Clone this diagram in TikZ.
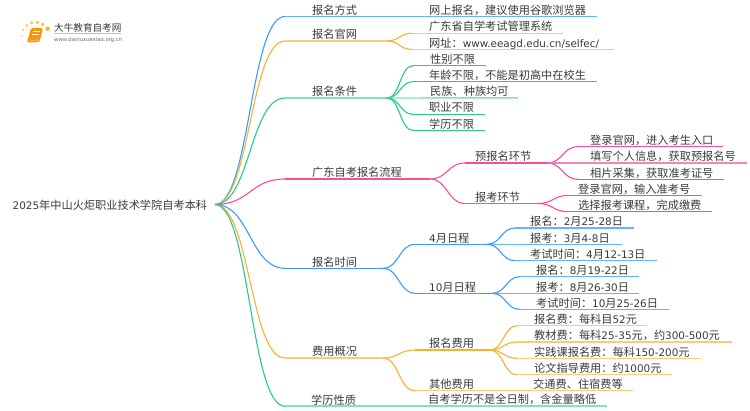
\documentclass[tikz,border=0pt]{standalone}
\usepackage{fontspec}
\setmainfont{Noto Sans CJK SC}
\newfontfamily\latf{DejaVu Sans}
\newcommand\la[1]{{\latf\fontsize{10.4}{11}\selectfont #1}}
\usetikzlibrary{calc}
\definecolor{cblue}{HTML}{3A9BFF}\definecolor{lblue}{HTML}{66B2FF}
\definecolor{corange}{HTML}{FBB02D}\definecolor{lorange}{HTML}{FCCB76}
\definecolor{cgreen}{HTML}{25CB8B}\definecolor{lgreen}{HTML}{7FE3BC}
\definecolor{cpink}{HTML}{FB4C95}
\definecolor{txt}{HTML}{3A3A3A}
\tikzset{
 lab/.style={anchor=base west,inner sep=0pt,yshift=-0.6pt,text=txt,font=\fontsize{11.2}{13}\selectfont},
 link/.style={line width=1.1pt,to path={let \p1=(\tikztostart),\p2=(\tikztotarget),\n1={0.5*(\x2-\x1)} in .. controls (\x1+\n1,\y1) and (\x2-\n1,\y2) .. (\tikztotarget)}},
 flat/.style={line width=1.4pt},
 top/.style={line width=1.7pt},
}
\begin{document}
\begin{tikzpicture}[x=1pt,y=-1pt]
\useasboundingbox (0,0) rectangle (750,410);
% logo
\foreach \px/\py/\r/\o in {47.7/28.7/2.2/1,42.7/24.3/1.8/.9,37.3/22.3/1.8/.9,31.7/22.7/1.6/.8,26.7/25.3/1.5/.7,23/30/1.3/.6,22/36/1.2/.5,22.7/42.3/1/.3}
  \fill[corange,opacity=\o] (\px,\py) circle (\r);
\fill[orange!85!yellow,rounded corners=1.5pt] (31,28) -- (43,28) -- (39.5,42) -- (27,42.5) -- cycle;
\fill[orange!60!white] (30,40) -- (39,39.5) -- (38.8,41) -- (29.5,41.4) -- cycle;
\draw[white,line width=.5pt] (33,31.5) -- (39.5,31.5) (32.4,34) -- (38.8,34);
\node[anchor=base west,inner sep=0pt,text=txt,font=\fontsize{9.6}{11}\selectfont] (brand) at (54,31) {大牛教育自考网};
\draw[black!25,line width=.4pt] (54,33.2) -- (121,33.2);
\node[anchor=base west,inner sep=0pt,text=black!60,font=\latf\fontsize{5.3}{6}\selectfont] (site) at (54,41) {www.daniuxuexiao.org.cn};
% root
\node[lab] (root) at (12.5,209) {\la{2025}年中山火炬职业技术学院自考本科};
\coordinate (r) at (215,204.5);
% level 1 labels
\node[lab] (a1) at (312,13.5) {报名方式};
\node[lab] (a2) at (312,38) {报名官网};
\node[lab] (a3) at (312,95) {报名条件};
\node[lab] (a4) at (312,176) {广东自考报名流程};
\node[lab] (a5) at (312,265.5) {报名时间};
\node[lab] (a6) at (312,355) {费用概况};
\node[lab] (a7) at (311,403.5) {学历性质};
% level 1 anchor coordinates
\coordinate (s1) at (285,16.4);\coordinate (e1) at (597,16.4);
\coordinate (s2) at (285,41);\coordinate (e2) at (387,41);
\coordinate (s3) at (285,98);\coordinate (e3) at (387,98);
\coordinate (s4) at (285,179);\coordinate (e4) at (430,179);
\coordinate (s5) at (285,268.3);\coordinate (e5) at (383,268.3);
\coordinate (s6) at (285,358);\coordinate (e6) at (383,358);
\coordinate (s7) at (285,406.3);\coordinate (e7) at (607,406.3);
% level 1 connectors
\draw[link,cblue] (r) to (s1);\draw[top,lblue] (s1) -- (e1);
\draw[link,corange] (r) to (s2);\draw[top,lorange] (s2) -- (e2);
\draw[link,cgreen] (r) to (s3);\draw[top,lgreen] (s3) -- (e3);
\draw[link,cpink] (r) to (s4);\draw[flat,cpink] (s4) -- (e4);
\draw[link,cblue] (r) to (s5);\draw[flat,cblue] (s5) -- (e5);
\draw[link,corange] (r) to (s6);\draw[top,lorange] (s6) -- (e6);
\draw[link,cgreen] (r) to (s7);\draw[top,lgreen] (s7) -- (e7);
% branch 1, 2
\node[lab] (b11) at (429,13.5) {网上报名，建议使用谷歌浏览器};
\node[lab] (b21) at (429,30) {广东省自学考试管理系统};
\node[lab] (b22) at (429,46.5) {网址：\la{www.eeagd.edu.cn/selfec/}};
\coordinate (c21) at (412,33.2);\coordinate (d21) at (563,33.2);
\coordinate (c22) at (412,49.4);\coordinate (d22) at (614,49.4);
\draw[link,corange] (e2) to (c21);\draw[flat,lorange] (c21) -- (d21);
\draw[link,corange] (e2) to (c22);\draw[flat,lorange] (c22) -- (d22);
% branch 3
\node[lab] (b31) at (430,62.5) {性别不限};
\node[lab] (b32) at (429,78.5) {年龄不限，不能是初高中在校生};
\node[lab] (b33) at (430,95) {民族、种族均可};
\node[lab] (b34) at (429,111) {职业不限};
\node[lab] (b35) at (429,127.5) {学历不限};
\coordinate (c31) at (413,65.7);\coordinate (d31) at (486,65.7);
\coordinate (c32) at (413,81.7);\coordinate (d32) at (597,81.7);
\coordinate (d33) at (518,97.8);
\coordinate (c34) at (413,114.3);\coordinate (d34) at (485,114.3);
\coordinate (c35) at (413,130.4);\coordinate (d35) at (485,130.4);
\draw[link,cgreen] (e3) to (c31);\draw[flat,cgreen] (c31) -- (d31);
\draw[link,cgreen] (e3) to (c32);\draw[flat,cgreen] (c32) -- (d32);
\draw[flat,lgreen] (e3) -- (d33);
\draw[link,cgreen] (e3) to (c34);\draw[flat,cgreen] (c34) -- (d34);
\draw[link,cgreen] (e3) to (c35);\draw[flat,cgreen] (c35) -- (d35);
% branch 4
\node[lab] (b41) at (475,160) {预报名环节};
\node[lab] (b42) at (475,200.5) {报考环节};
\coordinate (c41) at (465,163);\coordinate (d41) at (547,163);
\coordinate (c42) at (465,203.5);\coordinate (d42) at (538,203.5);
\draw[link,cpink] (e4) to (c41);\draw[flat,cpink] (c41) -- (d41);
\draw[link,cpink] (e4) to (c42);\draw[flat,cpink] (c42) -- (d42);
\node[lab] (n1) at (590,144) {登录官网，进入考生入口};
\node[lab] (n2) at (590,160) {填写个人信息，获取预报名号};
\node[lab] (n3) at (590,176.5) {相片采集，获取准考证号};
\coordinate (f1) at (578,146.7);\coordinate (g1) at (723,146.7);
\coordinate (g2) at (747,163);
\coordinate (f3) at (578,179.3);\coordinate (g3) at (724,179.3);
\draw[link,cpink] (d41) to (f1);\draw[flat,cpink] (f1) -- (g1);
\draw[flat,cpink!70!white] (d41) -- (g2);
\draw[link,cpink] (d41) to (f3);\draw[flat,cpink] (f3) -- (g3);
\node[lab] (n4) at (578,192.5) {登录官网，输入准考号};
\node[lab] (n5) at (578,209) {选择报考课程，完成缴费};
\coordinate (f4) at (568,195.5);\coordinate (g4) at (702,195.5);
\coordinate (f5) at (568,211.7);\coordinate (g5) at (712,211.7);
\draw[link,cpink] (d42) to (f4);\draw[flat,cpink] (f4) -- (g4);
\draw[link,cpink] (d42) to (f5);\draw[flat,cpink] (f5) -- (g5);
% branch 5
\node[lab] (b51) at (429,241.5) {\la{4}月日程};
\node[lab] (b52) at (429,290.5) {\la{10}月日程};
\coordinate (c51) at (415,244.3);\coordinate (d51) at (487,244.3);
\coordinate (c52) at (415,293.3);\coordinate (d52) at (492,293.3);
\draw[link,cblue] (e5) to (c51);\draw[flat,cblue] (c51) -- (d51);
\draw[link,cblue] (e5) to (c52);\draw[flat,cblue] (c52) -- (d52);
\node[lab] (p1) at (530,225) {报名：\la{2}月\la{25-28}日};
\node[lab] (p2) at (530,241.5) {报考：\la{3}月\la{4-8}日};
\node[lab] (p3) at (530,257.5) {考试时间：\la{4}月\la{12-13}日};
\node[lab] (p4) at (536,274) {报名：\la{8}月\la{19-22}日};
\node[lab] (p5) at (536,290.5) {报考：\la{8}月\la{26-30}日};
\node[lab] (p6) at (536,306.5) {考试时间：\la{10}月\la{25-26}日};
\coordinate (h1) at (515,228);\coordinate (i1) at (634,228);
\coordinate (i2) at (622,244.3);
\coordinate (h3) at (515,260.7);\coordinate (i3) at (657,260.7);
\coordinate (h4) at (520,276.7);\coordinate (i4) at (639,276.7);
\coordinate (i5) at (639,293.3);
\coordinate (h6) at (520,309.4);\coordinate (i6) at (669,309.4);
\draw[link,cblue] (d51) to (h1);\draw[flat,lblue] (h1) -- (i1);
\draw[flat,lblue] (d51) -- (i2);
\draw[link,cblue] (d51) to (h3);\draw[flat,lblue] (h3) -- (i3);
\draw[link,cblue] (d52) to (h4);\draw[flat,lblue] (h4) -- (i4);
\draw[flat,lblue] (d52) -- (i5);
\draw[link,cblue] (d52) to (h6);\draw[flat,lblue] (h6) -- (i6);
% branch 6
\node[lab] (b61) at (429,347) {报名费用};
\node[lab] (b62) at (429,388) {其他费用};
\coordinate (c61) at (415,350);\coordinate (d61) at (490,350);
\coordinate (c62) at (415,390.7);\coordinate (d62) at (633,390.7);
\draw[link,corange] (e6) to (c61);\draw[flat,corange] (c61) -- (d61);
\draw[link,corange] (e6) to (c62);\draw[flat,lorange] (c62) -- (d62);
\node[lab] (q1) at (534,322.5) {报名费：每科目\la{52}元};
\node[lab] (q2) at (534,339) {教材费：每科\la{25-35}元，约\la{300-500}元};
\node[lab] (q3) at (534,355.5) {实践课报名费：每科\la{150-200}元};
\node[lab] (q4) at (534,371.5) {论文指导费用：约\la{1000}元};
\node[lab] (q5) at (533,388) {交通费、住宿费等};
\coordinate (j1) at (517,325.7);\coordinate (k1) at (647,325.7);
\coordinate (j2) at (517,342);\coordinate (k2) at (732,342);
\coordinate (j3) at (517,358.3);\coordinate (k3) at (701,358.3);
\coordinate (j4) at (517,374.7);\coordinate (k4) at (672,374.7);
\draw[link,corange] (d61) to (j1);\draw[flat,lorange] (j1) -- (k1);
\draw[link,corange] (d61) to (j2);\draw[flat,lorange] (j2) -- (k2);
\draw[link,corange] (d61) to (j3);\draw[flat,lorange] (j3) -- (k3);
\draw[link,corange] (d61) to (j4);\draw[flat,lorange] (j4) -- (k4);
% branch 7
\node[lab] (b71) at (428,403) {自考学历不是全日制，含金量略低};
\end{tikzpicture}
\end{document}
